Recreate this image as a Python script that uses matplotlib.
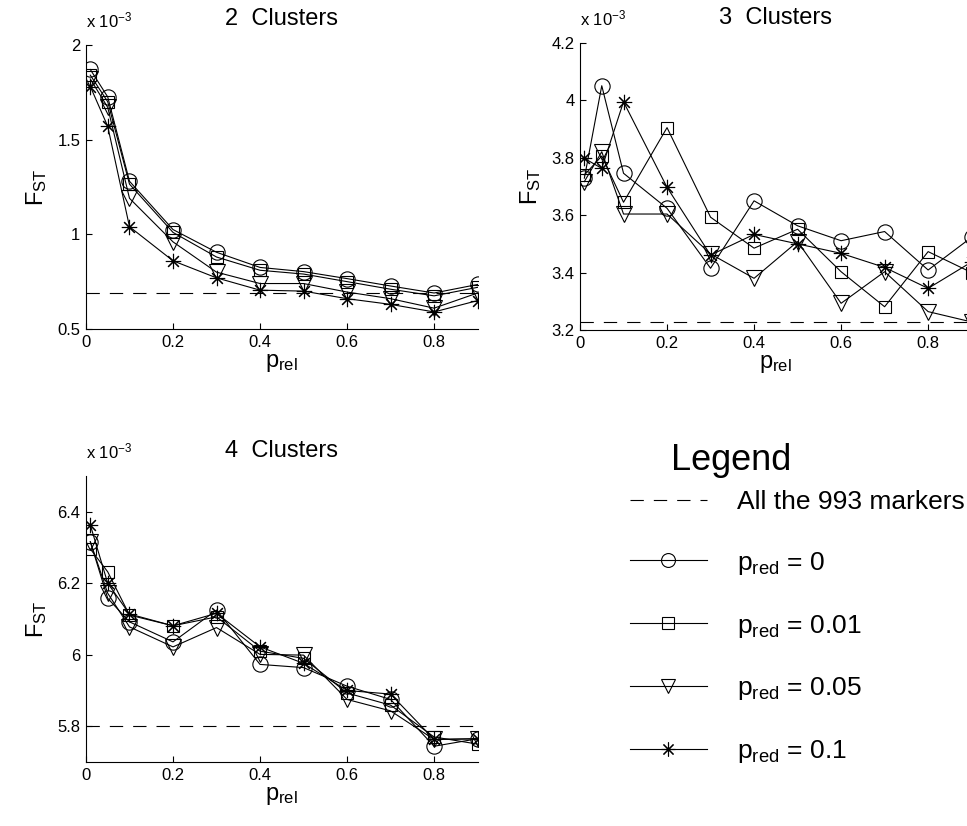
import matplotlib
matplotlib.use("Agg")
import matplotlib.pyplot as plt
from matplotlib.lines import Line2D

plt.rcParams['font.family'] = ['Liberation Sans', 'DejaVu Sans']
plt.rcParams['mathtext.fontset'] = 'custom'
plt.rcParams['mathtext.rm'] = 'Liberation Sans'
plt.rcParams['mathtext.it'] = 'Liberation Sans'

# p_rel values (x axis)
p_rel = [0.01, 0.05, 0.1, 0.2, 0.3, 0.4, 0.5, 0.6, 0.7, 0.8, 0.9]

# F_ST values, in units of 1e-3
c2_p0 = [1.87, 1.725, 1.28, 1.025, 0.905, 0.825, 0.803, 0.766, 0.727, 0.69, 0.735]
c2_p001 = [1.84, 1.70, 1.265, 1.01, 0.88, 0.81, 0.79, 0.75, 0.71, 0.675, 0.72]
c2_p005 = [1.82, 1.67, 1.19, 0.96, 0.80, 0.74, 0.74, 0.695, 0.66, 0.61, 0.69]
c2_p01 = [1.78, 1.57, 1.04, 0.86, 0.77, 0.705, 0.70, 0.66, 0.63, 0.59, 0.65]
c2_all = 0.692

c3_p0 = [3.729, 4.051, 3.746, 3.624, 3.415, 3.65, 3.563, 3.511, 3.543, 3.409, 3.523]
c3_p001 = [3.74, 3.806, 3.645, 3.905, 3.593, 3.485, 3.551, 3.403, 3.281, 3.473, 3.40]
c3_p005 = [3.717, 3.821, 3.604, 3.604, 3.465, 3.38, 3.508, 3.293, 3.403, 3.264, 3.228]
c3_p01 = [3.798, 3.763, 3.995, 3.697, 3.461, 3.533, 3.50, 3.467, 3.418, 3.345, 3.437]
c3_all = 3.228

c4_p0 = [6.316, 6.158, 6.092, 6.036, 6.125, 5.973, 5.964, 5.912, 5.875, 5.744, 5.765]
c4_p001 = [6.296, 6.232, 6.111, 6.081, 6.106, 6.010, 5.99, 5.893, 5.859, 5.77, 5.75]
c4_p005 = [6.316, 6.172, 6.078, 6.022, 6.076, 6.001, 5.999, 5.875, 5.843, 5.763, 5.765]
c4_p01 = [6.363, 6.20, 6.114, 6.081, 6.116, 6.022, 5.976, 5.90, 5.89, 5.763, 5.765]
c4_all = 5.80

labels = ['$\\mathregular{p_{red}}$ = 0', '$\\mathregular{p_{red}}$ = 0.01',
          '$\\mathregular{p_{red}}$ = 0.05', '$\\mathregular{p_{red}}$ = 0.1']
markers = ['o', 's', 'v', (8, 2, 0)]   # last one: matlab style asterisk
msizes = [11, 9, 11, 11]
dash = (0, (12, 9))

panels = [
    ('2  Clusters', [c2_p0, c2_p001, c2_p005, c2_p01], c2_all, (0.5, 2.0), [0.5, 1, 1.5, 2],
     [0.0889, 0.6017, 0.405, 0.344]),
    ('3  Clusters', [c3_p0, c3_p001, c3_p005, c3_p01], c3_all, (3.2, 4.2), [3.2, 3.4, 3.6, 3.8, 4, 4.2],
     [0.5998, 0.6005, 0.405, 0.3475]),
    ('4  Clusters', [c4_p0, c4_p001, c4_p005, c4_p01], c4_all, (5.7, 6.5), [5.8, 6, 6.2, 6.4],
     [0.0889, 0.0775, 0.405, 0.3462]),
]

fig = plt.figure(figsize=(9.67, 8.26), dpi=100)

for title, series, ref, ylim, yticks, pos in panels:
    ax = fig.add_axes(pos)
    ax.axhline(ref, color='black', linestyle=dash, linewidth=0.8)
    for vals, m, ms in zip(series, markers, msizes):
        ax.plot(p_rel, vals, color='black', linewidth=0.8, marker=m, markersize=ms,
                markerfacecolor='none', markeredgecolor='black', markeredgewidth=0.8)
    ax.set_xlim(0, 0.9)
    ax.set_ylim(*ylim)
    ax.set_xticks([0, 0.2, 0.4, 0.6, 0.8])
    ax.set_xticklabels(['0', '0.2', '0.4', '0.6', '0.8'])
    ax.set_yticks(yticks)
    ax.set_yticklabels([('%g' % t) for t in yticks])
    ax.spines['top'].set_visible(False)
    ax.spines['right'].set_visible(False)
    for s in ['left', 'bottom']:
        ax.spines[s].set_linewidth(0.8)
    ax.tick_params(direction='in', length=4, width=0.8, labelsize=12, pad=4)
    ax.set_title(title, fontsize=17, pad=14)
    ax.set_xlabel('$\\mathregular{p_{rel}}$', fontsize=17, labelpad=2)
    ax.set_ylabel('$\\mathregular{F_{ST}}$', fontsize=17, labelpad=6)
    ax.text(0.0, 1.05, 'x $\\mathregular{10^{-3}}$', transform=ax.transAxes,
            fontsize=12, ha='left', va='bottom')

# legend
handles = [Line2D([], [], color='black', linestyle=dash, linewidth=0.8)]
for m, ms in zip(markers, msizes):
    handles.append(Line2D([], [], color='black', linewidth=0.8, marker=m, markersize=ms - 1,
                          markerfacecolor='none', markeredgecolor='black', markeredgewidth=0.8))
fig.legend(handles, ['All the 993 markers'] + labels, loc='upper left',
           bbox_to_anchor=(0.6515, 0.407), frameon=False, fontsize=19,
           handlelength=2.9, handletextpad=1.14, labelspacing=1.36,
           borderpad=0, borderaxespad=0)
fig.text(0.756, 0.443, 'Legend', fontsize=26, ha='center', va='center')

fig.savefig('out.png', dpi=100)
